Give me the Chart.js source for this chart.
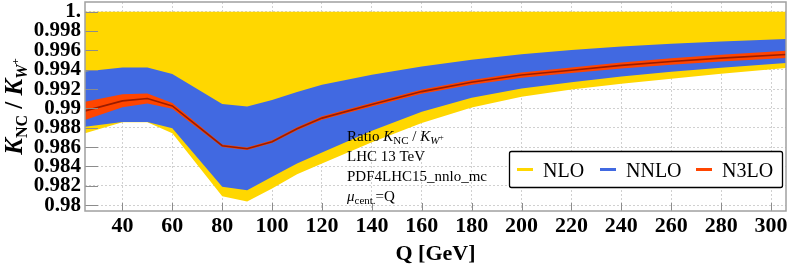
<!DOCTYPE html>
<html lang="en">
<head>
  <meta charset="UTF-8">
  <title>K_NC / K_W+ ratio</title>
  <script src="https://cdn.jsdelivr.net/npm/chart.js"></script>
  <style>
    body { margin: 0; background: #fff; }
  </style>
</head>
<body>
<canvas id="ratioChart" width="789" height="268"></canvas>

<script>
  // Q values [GeV] and band edges
  const Q = [25, 40, 50, 60, 80, 90, 100, 110, 120, 140, 160, 180, 200, 220, 240, 260, 280, 306];

  const nloHi  = [1, 1, 1, 1, 1, 1, 1, 1, 1, 1, 1, 1, 1, 1, 1, 1, 1, 1];
  const nloLo  = [0.98743, 0.98857, 0.98857, 0.98743, 0.98093, 0.98038, 0.98173, 0.98320, 0.98430, 0.98650, 0.98850, 0.99010, 0.99120, 0.99195, 0.99255, 0.99308, 0.99358, 0.99417];
  const nnloHi = [0.99382, 0.99423, 0.99423, 0.99357, 0.99047, 0.99019, 0.99088, 0.99170, 0.99244, 0.99347, 0.99433, 0.99503, 0.99560, 0.99605, 0.99640, 0.99668, 0.99693, 0.99717];
  const nnloLo = [0.98812, 0.98860, 0.98860, 0.98795, 0.98190, 0.98155, 0.98293, 0.98430, 0.98545, 0.98770, 0.98965, 0.99110, 0.99205, 0.99270, 0.99330, 0.99378, 0.99420, 0.99470];
  const n3loHi = [0.99070, 0.99147, 0.99155, 0.99056, 0.98628, 0.98597, 0.98670, 0.98806, 0.98918, 0.99060, 0.99196, 0.99294, 0.99372, 0.99424, 0.99476, 0.99518, 0.99555, 0.99595];
  const n3loLo = [0.98881, 0.99012, 0.99050, 0.98998, 0.98602, 0.98571, 0.98642, 0.98774, 0.98882, 0.99020, 0.99152, 0.99246, 0.99318, 0.99366, 0.99414, 0.99452, 0.99485, 0.99521];
  const n3loC  = [0.98974, 0.99078, 0.99102, 0.99026, 0.98615, 0.98584, 0.98656, 0.98790, 0.98900, 0.99040, 0.99174, 0.99270, 0.99345, 0.99395, 0.99445, 0.99485, 0.99520, 0.99558];

  const bandNames  = ['NLO', 'NNLO', 'N3LO'];
  const bandColors = ['#ffd700', '#4169e1', '#ff4500'];
  const centralColor = '#9a1c00';

  const xTicks = [40, 60, 80, 100, 120, 140, 160, 180, 200, 220, 240, 260, 280, 300];
  const yTicks = [0.98, 0.982, 0.984, 0.986, 0.988, 0.99, 0.992, 0.994, 0.996, 0.998, 1.0];
  const yTickLabels = ['0.98', '0.982', '0.984', '0.986', '0.988', '0.99', '0.992', '0.994', '0.996', '0.998', '1.'];

  const infoLines = ['LHC 13 TeV', 'PDF4LHC15_nnlo_mc'];

  const SERIF = "'Liberation Serif', 'DejaVu Serif', serif";

  const pts = ys => Q.map((q, i) => ({ x: q, y: ys[i] }));
  const edge = (data, fill, color, label) => ({
    label: label, data: pts(data), fill: fill, backgroundColor: color, borderWidth: 0,
    pointRadius: 0, tension: 0
  });

  // draws a run of [text, font, dy] pieces from (x, y)
  function drawRun(ctx, x, y, parts) {
    parts.forEach(p => {
      ctx.font = p[1];
      ctx.fillText(p[0], x, y + (p[2] || 0));
      x += ctx.measureText(p[0]).width;
    });
    return x;
  }

  const decor = {
    id: 'decor',
    afterDatasetsDraw(chart) {
      const ctx = chart.ctx;
      const a = chart.chartArea;
      const xs = chart.scales.x, ys = chart.scales.y;
      ctx.save();
      // tick marks, inward
      ctx.strokeStyle = '#8c8c8c';
      ctx.lineWidth = 1;
      ctx.beginPath();
      yTicks.forEach(v => {
        const y = Math.round(ys.getPixelForValue(v)) + 0.5;
        ctx.moveTo(a.left, y); ctx.lineTo(a.left + 13, y);
      });
      xTicks.forEach(v => {
        const x = Math.round(xs.getPixelForValue(v)) + 0.5;
        ctx.moveTo(x, a.bottom); ctx.lineTo(x, a.bottom - 8);
      });
      ctx.stroke();
      // frame
      ctx.strokeStyle = '#a0a0a0';
      ctx.lineWidth = 1.5;
      ctx.strokeRect(a.left, a.top, a.right - a.left, a.bottom - a.top);

      // annotation text
      ctx.fillStyle = '#000';
      ctx.textBaseline = 'alphabetic';
      ctx.textAlign = 'left';
      const f = '15px ' + SERIF, fi = 'italic 15px ' + SERIF;
      const fs = '11px ' + SERIF, fsi = 'italic 11px ' + SERIF, fss = '8px ' + SERIF;
      drawRun(ctx, 347, 141, [['Ratio ', f], ['K', fi], ['NC', fs, 3], [' / ', f], ['K', fi], ['W', fsi, 3], ['+', fss, -1]]);
      infoLines.forEach((t, i) => drawRun(ctx, 347, 161 + i * 20, [[t, f]]));
      drawRun(ctx, 347, 201, [['\u03bc', fi], ['cent.', fs, 3], ['=Q', f]]);

      // legend
      ctx.fillStyle = '#fff';
      ctx.strokeStyle = '#000';
      ctx.lineWidth = 1.3;
      ctx.beginPath();
      ctx.roundRect(509.5, 151.5, 273, 36, 2);
      ctx.fill(); ctx.stroke();
      const lx = [517, 600, 696];
      bandNames.forEach((n, i) => {
        ctx.strokeStyle = bandColors[i];
        ctx.lineWidth = 3;
        ctx.beginPath();
        ctx.moveTo(lx[i], 169.5); ctx.lineTo(lx[i] + 16, 169.5);
        ctx.stroke();
        ctx.fillStyle = '#000';
        ctx.font = '20px ' + SERIF;
        ctx.fillText(n, lx[i] + 26, 176.5);
      });

      // y axis title, rotated
      ctx.save();
      ctx.translate(22, (a.top + a.bottom) / 2);
      ctx.rotate(-Math.PI / 2);
      const B = 'bold 25px ' + SERIF, BI = 'bold italic 25px ' + SERIF;
      const bs = 'bold 16px ' + SERIF, bsi = 'bold italic 16px ' + SERIF, bss = 'bold 11px ' + SERIF;
      const parts = [['K', BI], ['NC', bs, 5], [' / ', B], ['K', BI], ['W', bsi, 5], ['+', bss, -3]];
      let w = 0;
      parts.forEach(p => { ctx.font = p[1]; w += ctx.measureText(p[0]).width; });
      drawRun(ctx, -w / 2, 0, parts);
      ctx.restore();

      ctx.restore();
    }
  };

  // index 0 is painted on top, so the central line comes first and NLO last
  const ctx = document.getElementById('ratioChart').getContext('2d');
  const ratioChart = new Chart(ctx, {
    type: 'line',
    data: {
      datasets: [
        {
          label: 'N3LO central', data: pts(n3loC), fill: false, borderColor: centralColor,
          borderWidth: 1.6, pointRadius: 0, tension: 0
        },
        edge(n3loHi, '+1', bandColors[2], bandNames[2]),
        edge(n3loLo, false, bandColors[2]),
        edge(nnloHi, '+1', bandColors[1], bandNames[1]),
        edge(nnloLo, false, bandColors[1]),
        edge(nloHi, '+1', bandColors[0], bandNames[0]),
        edge(nloLo, false, bandColors[0])
      ]
    },
    options: {
      responsive: false,
      animation: false,
      layout: { padding: { top: 2, right: 3, left: 0, bottom: 0 } },
      plugins: { legend: { display: false }, tooltip: { enabled: false } },
      scales: {
        x: {
          type: 'linear',
          min: 25, max: 306,
          afterBuildTicks: s => { s.ticks = xTicks.map(v => ({ value: v })); },
          afterFit: s => { s.height = 57; s.paddingLeft = 0; s.paddingRight = 0; },
          grid: { color: '#d0d0d0', drawTicks: false },
          border: { display: false, dash: [2, 2] },
          ticks: { autoSkip: false, maxRotation: 0, padding: 2, color: '#000',
                   font: { family: SERIF, size: 22, weight: 'bold' } },
          title: { display: true, text: 'Q [GeV]', color: '#000', padding: { top: 0, bottom: 0 },
                   font: { family: SERIF, size: 22, weight: 'bold' } }
        },
        y: {
          min: 0.9794, max: 1.001,
          afterBuildTicks: s => { s.ticks = yTicks.map(v => ({ value: v })); },
          afterFit: s => { s.width = 85; s.paddingTop = 0; s.paddingBottom = 0; },
          grid: { color: '#d0d0d0', drawTicks: false },
          border: { display: false, dash: [2, 2] },
          ticks: { autoSkip: false, padding: 4, color: '#000',
                   font: { family: SERIF, size: 21, weight: 'bold' },
                   callback: (v, i) => yTickLabels[i] }
        }
      }
    },
    plugins: [decor]
  });
</script>
</body>
</html>
